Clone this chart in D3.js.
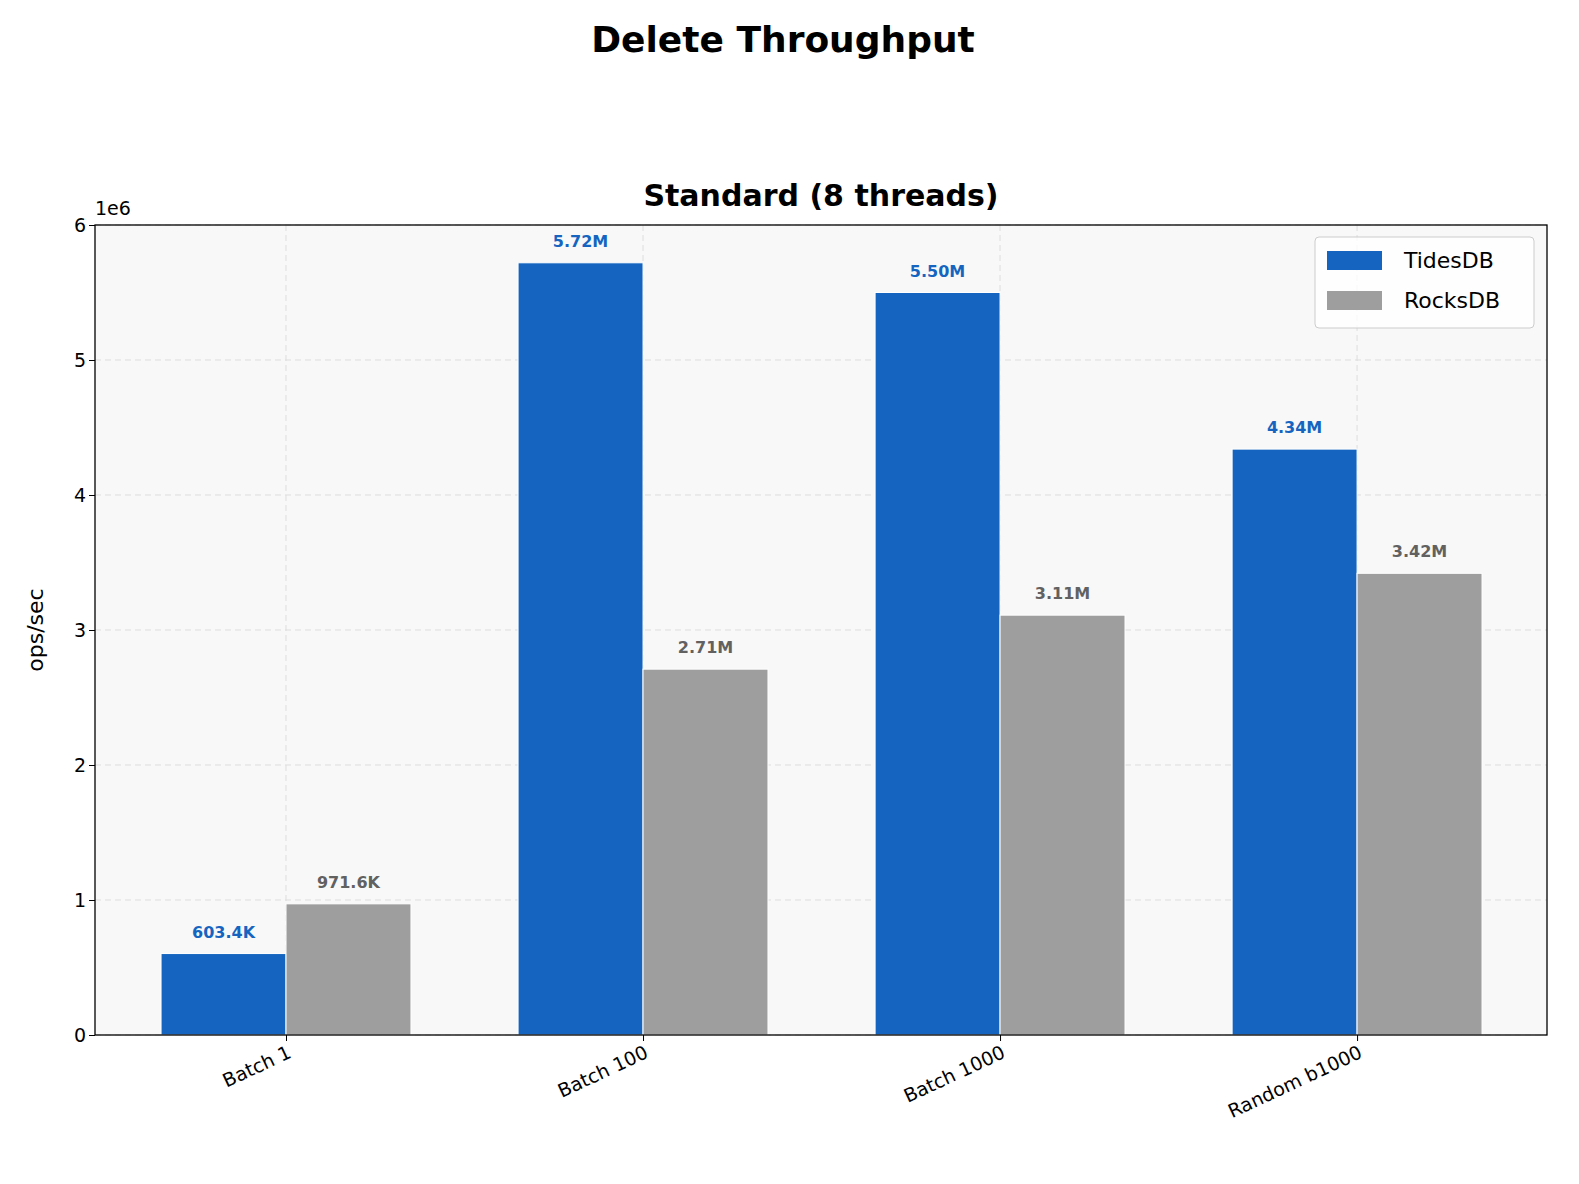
<!DOCTYPE html><html><head><script src="https://cdn.jsdelivr.net/npm/d3@7"></script>
<style>body{margin:0;background:#fff}text{font-family:"DejaVu Sans",sans-serif}</style></head><body>
<svg id="c" width="1579" height="1184"></svg>
<script>
const categories=["Batch 1","Batch 100","Batch 1000","Random b1000"];
const tidesdb=[603400,5720000,5500000,4340000];
const rocksdb=[971600,2710000,3110000,3420000];
const tidesLabels=["603.4K","5.72M","5.50M","4.34M"];
const rocksLabels=["971.6K","2.71M","3.11M","3.42M"];
const yTicks=[0,1,2,3,4,5,6];
const svg=d3.select("#c");
const L=95,R=1547,T=225,B=1035;
const x=d3.scaleLinear().domain([-0.535,3.532]).range([L,R]);
const y=d3.scaleLinear().domain([0,6e6]).range([B,T]);
const bw=x(0.35)-x(0);
svg.append("rect").attr("x",L).attr("y",T).attr("width",R-L).attr("height",B-T).attr("fill","#f8f8f8");
const g=svg.append("g");
yTicks.forEach(t=>g.append("line").attr("x1",L).attr("x2",R).attr("y1",y(t*1e6)).attr("y2",y(t*1e6)).attr("stroke","#ddd").attr("stroke-dasharray","6,4"));
categories.forEach((c,i)=>g.append("line").attr("x1",x(i)).attr("x2",x(i)).attr("y1",T).attr("y2",B).attr("stroke","#ddd").attr("stroke-dasharray","6,4"));
const series=[{v:tidesdb,l:tidesLabels,c:"#1565c0",tc:"#1565c0",off:-0.35},{v:rocksdb,l:rocksLabels,c:"#9e9e9e",tc:"#616161",off:0}];
series.forEach(s=>{
 s.v.forEach((v,i)=>{
  svg.append("rect").attr("x",x(i+s.off)).attr("y",y(v)).attr("width",bw).attr("height",B-y(v)).attr("fill",s.c).attr("stroke","#fff").attr("stroke-width",1);
  svg.append("text").attr("x",x(i+s.off)+bw/2).attr("y",y(v)-16).attr("text-anchor","middle").attr("font-size",16).attr("font-weight","bold").attr("fill",s.tc).text(s.l[i]);
 });
});
svg.append("rect").attr("x",L).attr("y",T).attr("width",R-L).attr("height",B-T).attr("fill","none").attr("stroke","#000").attr("stroke-width",1.3);
const ya=svg.append("g").attr("transform",`translate(${L},0)`).call(d3.axisLeft(y).tickValues(yTicks.map(t=>t*1e6)).tickFormat(d=>d/1e6).tickSize(6));
ya.select(".domain").remove();ya.selectAll("text").attr("font-size",19).attr("font-family","DejaVu Sans");
const xa=svg.append("g").attr("transform",`translate(0,${B})`).call(d3.axisBottom(x).tickValues([0,1,2,3]).tickFormat(i=>categories[i]).tickSize(6));
xa.select(".domain").remove();
xa.selectAll("text").attr("font-size",19).attr("font-family","DejaVu Sans").attr("text-anchor","end").attr("dy",null).attr("y",null).attr("transform","translate(6,22) rotate(-25)");
svg.append("text").attr("x",95).attr("y",215).attr("font-size",19).text("1e6");
svg.append("text").attr("transform","translate(43,630) rotate(-90)").attr("text-anchor","middle").attr("font-size",22).text("ops/sec");
svg.append("text").attr("x",821).attr("y",206).attr("text-anchor","middle").attr("font-size",30).attr("font-weight","bold").text("Standard (8 threads)");
svg.append("text").attr("x",783).attr("y",52).attr("text-anchor","middle").attr("font-size",36).attr("font-weight","bold").text("Delete Throughput");
const lg=svg.append("g").attr("transform","translate(1315,237)");
lg.append("rect").attr("width",219).attr("height",91).attr("rx",4).attr("fill","#fff").attr("fill-opacity",0.8).attr("stroke","#ccc");
[["TidesDB","#1565c0"],["RocksDB","#9e9e9e"]].forEach((d,i)=>{
 lg.append("rect").attr("x",12).attr("y",14+i*40).attr("width",55).attr("height",19).attr("fill",d[1]);
 lg.append("text").attr("x",89).attr("y",31+i*40).attr("font-size",22).text(d[0]);
});
</script></body></html>
